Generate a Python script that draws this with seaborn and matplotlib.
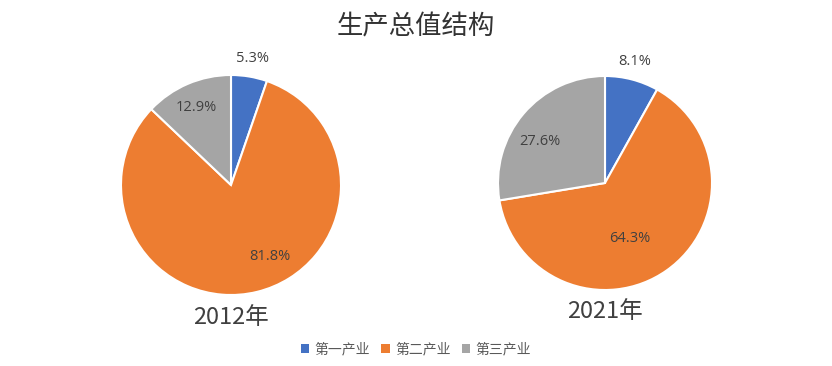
import numpy as np
import matplotlib
matplotlib.use("Agg")
import matplotlib.pyplot as plt
import seaborn as sns
from matplotlib.patches import Patch

sns.set_theme(style="white")
plt.rcParams['font.family'] = ['Noto Sans CJK SC', 'DejaVu Sans']

# data
categories = ['第一产业', '第二产业', '第三产业']
years = ['2012年', '2021年']
share_2012 = [5.3, 81.8, 12.9]
share_2021 = [8.1, 64.3, 27.6]
colors = ['#4472C4', '#ED7D31', '#A5A5A5']

# label placement: distance from centre (fraction of radius) and angle shift (deg)
label_dist_2012 = [1.17, 0.74, 0.77]
label_shift_2012 = [0, 15, 1]
label_dist_2021 = [1.17, 0.57, 0.72]
label_shift_2021 = [1, -11, 8]

fig = plt.figure(figsize=(8.32, 3.66), dpi=100)
fig.patch.set_facecolor('white')

text_col = '#404040'


def draw_pie(rect, values, dists, shifts, year):
    ax = fig.add_axes(rect)
    wedges, _ = ax.pie(values, colors=colors, startangle=90, counterclock=False,
                       wedgeprops=dict(edgecolor='white', linewidth=1.5))
    for w, v, d, s in zip(wedges, values, dists, shifts):
        ang = np.deg2rad((w.theta1 + w.theta2) / 2 + s)
        ax.text(d * np.cos(ang), d * np.sin(ang), f'{v}%', ha='center', va='center',
                fontsize=10.5, color=text_col, family=['Open Sans', 'DejaVu Sans'])
    ax.set_xlim(-1, 1)
    ax.set_ylim(-1, 1)
    ax.set_aspect('equal')
    ax.axis('off')
    ax.text(0, -1.2, year, ha='center', va='center', fontsize=17, color=text_col)
    return ax


draw_pie([121 / 832, 71 / 366, 220 / 832, 220 / 366], share_2012,
         label_dist_2012, label_shift_2012, years[0])
draw_pie([498 / 832, 76 / 366, 214 / 832, 214 / 366], share_2021,
         label_dist_2021, label_shift_2021, years[1])

fig.text(0.5, 0.925, '生产总值结构', ha='center', va='center', fontsize=19, color='#333333')

handles = [Patch(facecolor=c, edgecolor='none') for c in colors]
leg = fig.legend(handles, categories, loc='center', bbox_to_anchor=(0.5, 0.045), ncol=3,
                 frameon=False, fontsize=10, handlelength=0.6, handleheight=0.6,
                 handletextpad=0.4, columnspacing=0.8)
for t in leg.get_texts():
    t.set_color('#595959')

fig.savefig('out.png', dpi=100, facecolor='white')
